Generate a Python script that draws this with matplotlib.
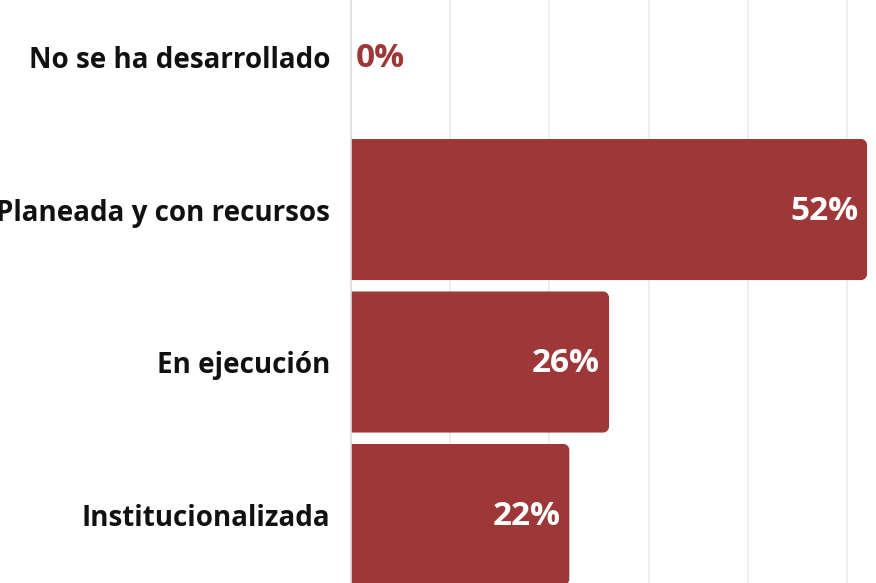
import matplotlib.pyplot as plt
from matplotlib.path import Path
from matplotlib.patches import PathPatch

# Datos
categorias = ["No se ha desarrollado", "Planeada y con recursos", "En ejecución", "Institucionalizada"]
valores = [0, 52, 26, 22]
etiquetas = ["0%", "52%", "26%", "22%"]

color_barra = "#9e3838"
plt.rcParams['font.family'] = ['Open Sans', 'DejaVu Sans']


def barra_redondeada(x1, y0, y1, rx, ry):
    # rectangulo desde 0 con esquinas derechas redondeadas
    k = 0.5523
    verts = [(0, y0), (x1 - rx, y0),
             (x1 - rx + k * rx, y0), (x1, y0 + ry - k * ry), (x1, y0 + ry),
             (x1, y1 - ry),
             (x1, y1 - ry + k * ry), (x1 - rx + k * rx, y1), (x1 - rx, y1),
             (0, y1), (0, y0)]
    codes = [Path.MOVETO, Path.LINETO,
             Path.CURVE4, Path.CURVE4, Path.CURVE4,
             Path.LINETO,
             Path.CURVE4, Path.CURVE4, Path.CURVE4,
             Path.LINETO, Path.CLOSEPOLY]
    return Path(verts, codes)


fig = plt.figure(figsize=(8.76, 5.83), dpi=100)
ax = fig.add_axes([351 / 876, 0, 1 - 351 / 876, 1])

alto = 0.925
rx = 0.6
ry = 0.04

for i, v in enumerate(valores):
    if v > 0:
        ax.add_patch(PathPatch(barra_redondeada(v, i - alto / 2, i + alto / 2, rx, ry),
                               fc=color_barra, ec="none", zorder=2))
        ax.text(v - 0.9, i + 0.01, etiquetas[i], ha="right", va="center", color="white",
                fontsize=24, fontweight="bold", zorder=3)
    else:
        ax.text(0.5, i + 0.01, etiquetas[i], ha="left", va="center", color=color_barra,
                fontsize=24, fontweight="bold", zorder=3)

ax.set_xlim(0, 52.9)
ax.set_ylim(3.449, -0.374)
ax.set_xticks([0, 10, 20, 30, 40, 50])
ax.xaxis.grid(True, color="#ebebeb", linewidth=1.2, zorder=0)
ax.tick_params(axis="x", length=0, labelbottom=False)
ax.set_yticks(range(len(categorias)))
ax.set_yticklabels(categorias, fontsize=20, fontweight="bold", color="#111111")
ax.tick_params(axis="y", length=0, pad=15)
for s in ["top", "right", "bottom"]:
    ax.spines[s].set_visible(False)
ax.spines["left"].set_color("#dddddd")
ax.spines["left"].set_linewidth(1.2)
ax.set_axisbelow(True)

fig.savefig("out.png", dpi=100)
